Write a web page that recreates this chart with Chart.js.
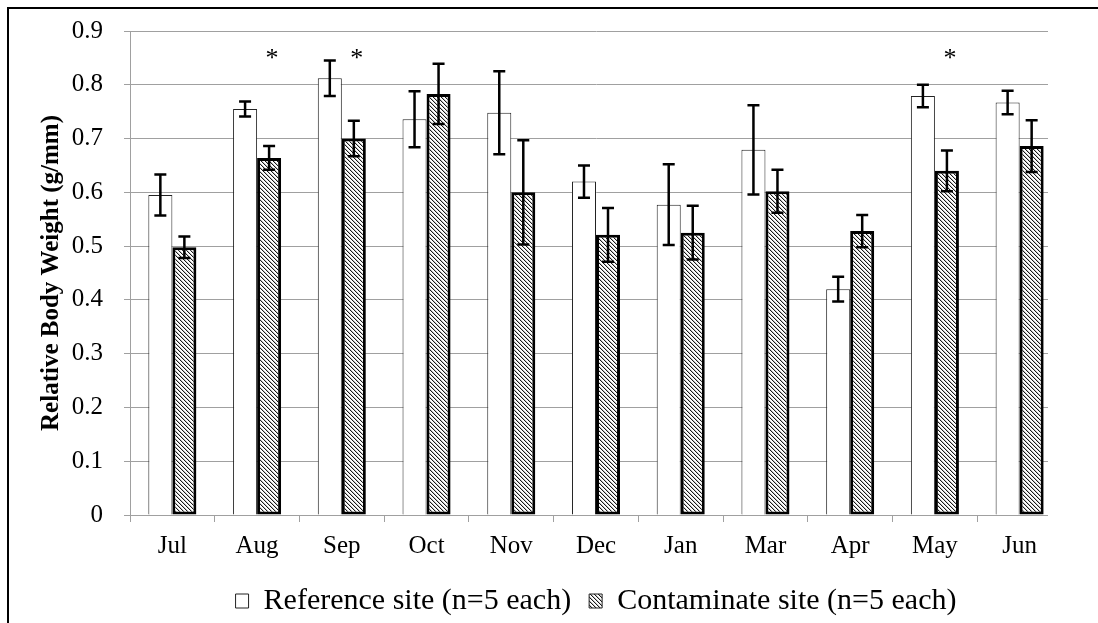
<!DOCTYPE html>
<html>
<head>
<meta charset="utf-8">
<script src="https://cdn.jsdelivr.net/npm/chart.js@4.4.1/dist/chart.umd.min.js"></script>
<style>
  html, body { margin: 0; padding: 0; background: #fff; overflow: hidden; }
  #wrap  { position: relative; width: 1098px; height: 640px; }
  #frame { position: absolute; left: 7px; top: 7px; width: 1200px; height: 800px;
           border-left: 2px solid #000; border-top: 2px solid #000; pointer-events: none; }
</style>
</head>
<body>
<div id="wrap"><canvas id="chart"></canvas></div>
<div id="frame"></div>
<script>
/* ── Data ─────────────────────────────────────────── */
const months   = ["Jul", "Aug", "Sep", "Oct", "Nov", "Dec", "Jan", "Mar", "Apr", "May", "Jun"];
const refMean  = [0.595, 0.755, 0.812, 0.736, 0.748, 0.620, 0.577, 0.679, 0.420, 0.779, 0.767];
const refErr   = [0.038, 0.014, 0.033, 0.052, 0.077, 0.030, 0.075, 0.083, 0.023, 0.021, 0.022];
const conMean  = [0.498, 0.664, 0.700, 0.783, 0.600, 0.521, 0.525, 0.602, 0.528, 0.640, 0.686];
const conErr   = [0.020, 0.022, 0.033, 0.056, 0.097, 0.050, 0.050, 0.040, 0.030, 0.038, 0.048];
const sigMarks = ["", "*", "*", "", "", "", "", "", "", "*", ""];
const sigLevel = 0.835;
const yLabels  = ["0", "0.1", "0.2", "0.3", "0.4", "0.5", "0.6", "0.7", "0.8", "0.9"];

const SERIF = "'Liberation Serif', 'Times New Roman', serif";
const GRID  = "#a0a0a0";

/* ── Hatch fill for contaminate bars ─────────────── */
function hatch() {
  const c = document.createElement("canvas");
  c.width = c.height = 4;
  const g = c.getContext("2d");
  g.fillStyle = "#fff"; g.fillRect(0, 0, 4, 4);
  for (let i = 0; i < 4; i++) {
    g.fillStyle = "#1a1a1a"; g.fillRect(i, i, 1, 1);
    g.fillStyle = "#c4c4c4"; g.fillRect((i + 1) % 4, i, 1, 1);
  }
  return g.createPattern(c, "repeat");
}

/* ── Plot area is cropped a bit short on the right ── */
const trimRight = {
  id: "trimRight",
  beforeDatasetsDraw(chart) {
    const { ctx, chartArea: a } = chart;
    ctx.save();
    ctx.fillStyle = "#fff";
    ctx.fillRect(a.right - 14, a.top - 2, 40, a.bottom - a.top + 14);
    ctx.restore();
  }
};

/* ── Error bars + significance stars ─────────────── */
const errorBars = {
  id: "errorBars",
  afterDatasetsDraw(chart) {
    const { ctx } = chart;
    const y = chart.scales.y;
    ctx.save();
    ctx.strokeStyle = "#000";
    ctx.lineWidth = 2.5;
    [refErr, conErr].forEach((errs, d) => {
      const vals = chart.data.datasets[d].data;
      chart.getDatasetMeta(d).data.forEach((bar, i) => {
        const top = y.getPixelForValue(vals[i] + errs[i]);
        const bot = y.getPixelForValue(vals[i] - errs[i]);
        ctx.beginPath();
        ctx.moveTo(bar.x, top);     ctx.lineTo(bar.x, bot);
        ctx.moveTo(bar.x - 6, top); ctx.lineTo(bar.x + 6, top);
        ctx.moveTo(bar.x - 6, bot); ctx.lineTo(bar.x + 6, bot);
        ctx.stroke();
      });
    });

    ctx.fillStyle = "#000";
    ctx.font = "26px " + SERIF;
    ctx.textAlign = "center";
    ctx.textBaseline = "alphabetic";
    const conBars = chart.getDatasetMeta(1).data;
    sigMarks.forEach((m, i) => {
      if (m) ctx.fillText(m, conBars[i].x + 3, y.getPixelForValue(sigLevel));
    });
    ctx.restore();
  }
};

/* ── Chart ────────────────────────────────────────── */
const canvas = document.getElementById("chart");

new Chart(canvas, {
  type: "bar",
  data: {
    labels: months,
    datasets: [
      {
        label: "Reference site (n=5 each)",
        data: refMean,
        backgroundColor: "#fff",
        borderColor: "#222",
        borderWidth: 1,
        categoryPercentage: 0.567,
        barPercentage: 1
      },
      {
        label: "Contaminate site (n=5 each)",
        data: conMean,
        backgroundColor: hatch(),
        borderColor: "#000",
        borderWidth: 3,
        borderSkipped: false,
        categoryPercentage: 0.567,
        barPercentage: 1
      }
    ]
  },
  options: {
    responsive: true,
    maintainAspectRatio: false,
    animation: false,
    devicePixelRatio: 1,
    layout: { padding: { left: 0, right: 36, top: 31, bottom: 14 } },
    plugins: {
      tooltip: { enabled: false },
      legend: {
        position: "bottom",
        fullSize: false,
        labels: {
          boxWidth: 13,
          boxHeight: 14,
          padding: 18,
          color: "#000",
          font: { family: SERIF, size: 30 },
          generateLabels: chart => chart.data.datasets.map((ds, i) => ({
            text: ds.label,
            fillStyle: ds.backgroundColor,
            strokeStyle: "#222",
            lineWidth: 1,
            fontColor: "#000",
            hidden: false,
            datasetIndex: i
          }))
        }
      }
    },
    scales: {
      x: {
        afterFit: s => { s.height = 53; },
        grid:   { offset: true, drawOnChartArea: false, tickLength: 7, color: GRID },
        border: { color: GRID, width: 1 },
        ticks:  { color: "#000", padding: 9, font: { family: SERIF, size: 25 } }
      },
      y: {
        min: 0,
        max: 0.9,
        afterFit: s => { s.width = 130; s.paddingTop = 0; s.paddingBottom = 0; },
        grid:   { color: GRID, lineWidth: 1, tickLength: 6 },
        border: { color: GRID, width: 1 },
        ticks:  {
          stepSize: 0.1,
          color: "#000",
          padding: 21,
          font: { family: SERIF, size: 25 },
          callback: (v, i) => yLabels[i]
        },
        title: {
          display: true,
          text: "Relative Body Weight (g/mm)",
          color: "#000",
          font: { family: SERIF, size: 25, weight: "bold" },
          padding: { top: 37, bottom: 0 }
        }
      }
    }
  },
  plugins: [trimRight, errorBars]
});
</script>
</body>
</html>
